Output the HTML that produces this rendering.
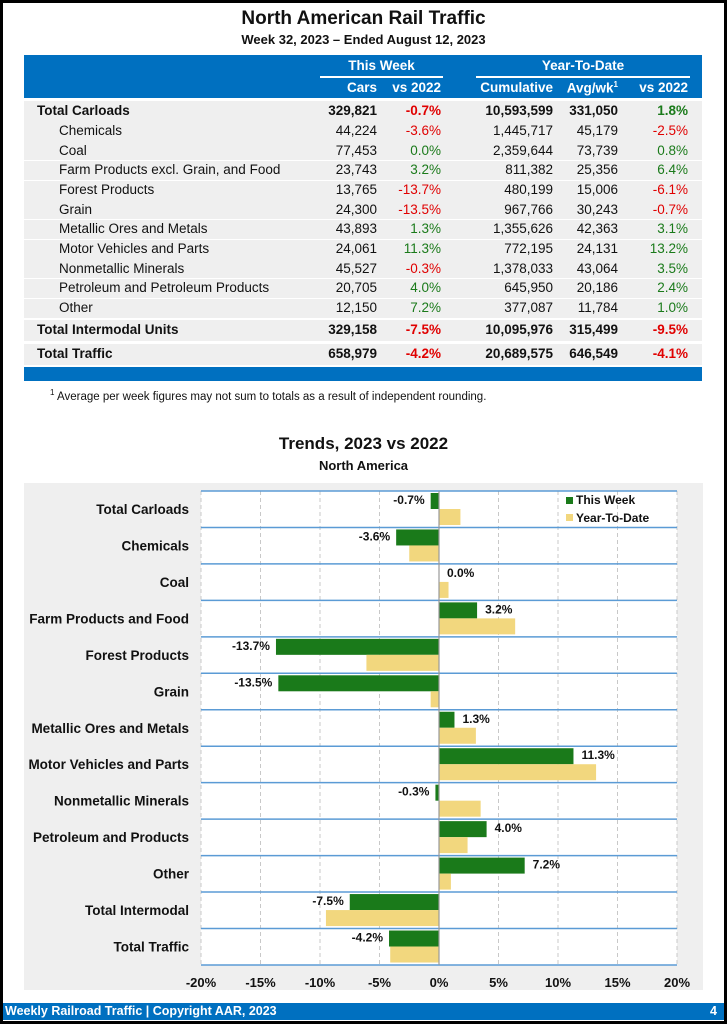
<!DOCTYPE html>
<html><head><meta charset="utf-8"><style>
*{margin:0;padding:0}
body{width:727px;height:1024px;position:relative;background:#fff;font-family:"Liberation Sans",Arial,sans-serif;overflow:hidden}
.frame{position:absolute;left:0;top:0;width:721px;height:1018px;border:3px solid #000}
.t{position:absolute;white-space:nowrap;font-size:13.5px;color:#111}
.r{text-align:right}
.b{font-weight:bold}
.red{color:#e00000}.grn{color:#1a7a1a}
.row{position:absolute;left:24px;width:678px;background:#efefef}
</style></head><body>
<div class="frame"></div>
<div class="t b" style="left:0;width:727px;text-align:center;top:8px;font-size:19px">North American Rail Traffic</div>
<div class="t b" style="left:0;width:727px;text-align:center;top:32px;font-size:13px">Week 32, 2023 – Ended August 12, 2023</div>
<div style="position:absolute;left:24px;top:55px;width:678px;height:43px;background:#0070c0"></div>
<div style="position:absolute;left:320px;top:76px;width:123px;height:2px;background:#fff"></div>
<div style="position:absolute;left:476px;top:76px;width:214px;height:2px;background:#fff"></div>
<div class="t b" style="left:320px;width:123px;text-align:center;top:58px;color:#fff">This Week</div>
<div class="t b" style="left:476px;width:214px;text-align:center;top:58px;color:#fff">Year-To-Date</div>
<div class="t b r" style="right:350px;top:80px;color:#fff">Cars</div>
<div class="t b r" style="right:286px;top:80px;color:#fff">vs 2022</div>
<div class="t b r" style="right:174px;top:80px;color:#fff">Cumulative</div>
<div class="t b r" style="right:109px;top:80px;color:#fff">Avg/wk<sup style="font-size:8px">1</sup></div>
<div class="t b r" style="right:39px;top:80px;color:#fff">vs 2022</div>
<div id="tbl"></div>
<div style="position:absolute;left:24px;top:367px;width:678px;height:14px;background:#0070c0"></div>
<div class="t" style="left:50px;top:388px;font-size:11.5px"><sup style="font-size:8px">1</sup> Average per week figures may not sum to totals as a result of independent rounding.</div>
<div class="t b" style="left:0;width:727px;text-align:center;top:434px;font-size:17px">Trends, 2023 vs 2022</div>
<div class="t b" style="left:0;width:727px;text-align:center;top:458px;font-size:13px">North America</div>
<svg id="ch" style="position:absolute;left:0;top:0" width="727" height="1024"></svg>
<div style="position:absolute;left:3px;top:1003px;width:721px;height:17px;background:#0070c0"></div>
<div class="t b" style="left:5px;top:1004px;color:#fff;font-size:12.5px">Weekly Railroad Traffic | Copyright AAR, 2023</div>
<div class="t b" style="right:10px;top:1004px;color:#fff;font-size:12.5px">4</div>
<script>
(function(){
var rows=[
["Total Carloads","329,821","-0.7%","10,593,599","331,050","1.8%",1,111],
["Chemicals","44,224","-3.6%","1,445,717","45,179","-2.5%",0,131],
["Coal","77,453","0.0%","2,359,644","73,739","0.8%",0,150.7],
["Farm Products excl. Grain, and Food","23,743","3.2%","811,382","25,356","6.4%",0,170.3],
["Forest Products","13,765","-13.7%","480,199","15,006","-6.1%",0,190],
["Grain","24,300","-13.5%","967,766","30,243","-0.7%",0,209.7],
["Metallic Ores and Metals","43,893","1.3%","1,355,626","42,363","3.1%",0,229.3],
["Motor Vehicles and Parts","24,061","11.3%","772,195","24,131","13.2%",0,249],
["Nonmetallic Minerals","45,527","-0.3%","1,378,033","43,064","3.5%",0,268.7],
["Petroleum and Petroleum Products","20,705","4.0%","645,950","20,186","2.4%",0,288.3],
["Other","12,150","7.2%","377,087","11,784","1.0%",0,308],
["Total Intermodal Units","329,158","-7.5%","10,095,976","315,499","-9.5%",1,330],
["Total Traffic","658,979","-4.2%","20,689,575","646,549","-4.1%",1,354]];
var h="";
rows.forEach(function(r){
 var c=r[7],b=r[6]?" b":"";
 var rt=r[6]?c-10.5:c-9.5,ht=r[6]?21:19;
 h+='<div class="row" style="top:'+rt+'px;height:'+ht+'px"></div>';
 var y=c-8;
 h+='<div class="t'+b+'" style="left:'+(r[6]?37:59)+'px;top:'+y+'px">'+r[0]+'</div>';
 var cl=function(v){return v.charAt(0)=="-"?"red":"grn"};
 h+='<div class="t r'+b+'" style="right:350px;top:'+y+'px">'+r[1]+'</div>';
 h+='<div class="t r '+cl(r[2])+b+'" style="right:286px;top:'+y+'px">'+r[2]+'</div>';
 h+='<div class="t r'+b+'" style="right:174px;top:'+y+'px">'+r[3]+'</div>';
 h+='<div class="t r'+b+'" style="right:109px;top:'+y+'px">'+r[4]+'</div>';
 h+='<div class="t r '+cl(r[5])+b+'" style="right:39px;top:'+y+'px">'+r[5]+'</div>';
});
document.getElementById("tbl").innerHTML=h;
var cats=["Total Carloads","Chemicals","Coal","Farm Products and Food","Forest Products","Grain","Metallic Ores and Metals","Motor Vehicles and Parts","Nonmetallic Minerals","Petroleum and Products","Other","Total Intermodal","Total Traffic"];
var tw=[-0.7,-3.6,0.0,3.2,-13.7,-13.5,1.3,11.3,-0.3,4.0,7.2,-7.5,-4.2];
var yt=[1.8,-2.5,0.8,6.4,-6.1,-0.7,3.1,13.2,3.5,2.4,1.0,-9.5,-4.1];
var s='<rect x="24" y="483" width="679" height="507" fill="#efefef"/>';
var x0=439,k=11.9,T0=491,rh=36.46;
s+='<rect x="201" y="'+T0+'" width="476" height="'+(rh*13)+'" fill="#fff"/>';
for(var p=-20;p<=20;p+=5){var x=x0+p*k;
 if(p!=0)s+='<line x1="'+x+'" y1="'+T0+'" x2="'+x+'" y2="'+(T0+rh*13)+'" stroke="#c8c8c8" stroke-dasharray="4,3"/>';
 s+='<text x="'+x+'" y="987" text-anchor="middle" font-size="13" font-weight="bold" fill="#111">'+p+'%</text>';}
for(var i=0;i<13;i++){var y=T0+i*rh;
 var g=tw[i]*k,yy=yt[i]*k;
 s+='<rect x="'+Math.min(x0,x0+g)+'" y="'+(y+2)+'" width="'+Math.abs(g)+'" height="16" fill="#1a7a1a"/>';
 s+='<rect x="'+Math.min(x0,x0+yy)+'" y="'+(y+18)+'" width="'+Math.abs(yy)+'" height="16" fill="#f2d77e"/>';
 var lbl=tw[i].toFixed(1)+"%";
 if(tw[i]<0)s+='<text x="'+(x0+g-6)+'" y="'+(y+13)+'" text-anchor="end" font-size="12" font-weight="bold" fill="#111">'+lbl+'</text>';
 else s+='<text x="'+(x0+g+8)+'" y="'+(y+13)+'" font-size="12" font-weight="bold" fill="#111">'+lbl+'</text>';
 s+='<text x="189" y="'+(y+23)+'" text-anchor="end" font-size="13.5" font-weight="bold" fill="#111">'+cats[i]+'</text>';
}
for(var i=0;i<=13;i++){var y=T0+i*rh;s+='<line x1="201" y1="'+y+'" x2="677" y2="'+y+'" stroke="#5b9bd5" stroke-width="1.5"/>';}
s+='<line x1="'+x0+'" y1="'+T0+'" x2="'+x0+'" y2="'+(T0+rh*13)+'" stroke="#999" stroke-width="1.2"/>';
s+='<rect x="566" y="497" width="7" height="7" fill="#1a7a1a"/><text x="576" y="504" font-size="12" font-weight="bold" fill="#111">This Week</text>';
s+='<rect x="566" y="514" width="7" height="7" fill="#f2d77e"/><text x="576" y="522" font-size="12" font-weight="bold" fill="#111">Year-To-Date</text>';
document.getElementById("ch").innerHTML=s;
})();
</script>
</body></html>
